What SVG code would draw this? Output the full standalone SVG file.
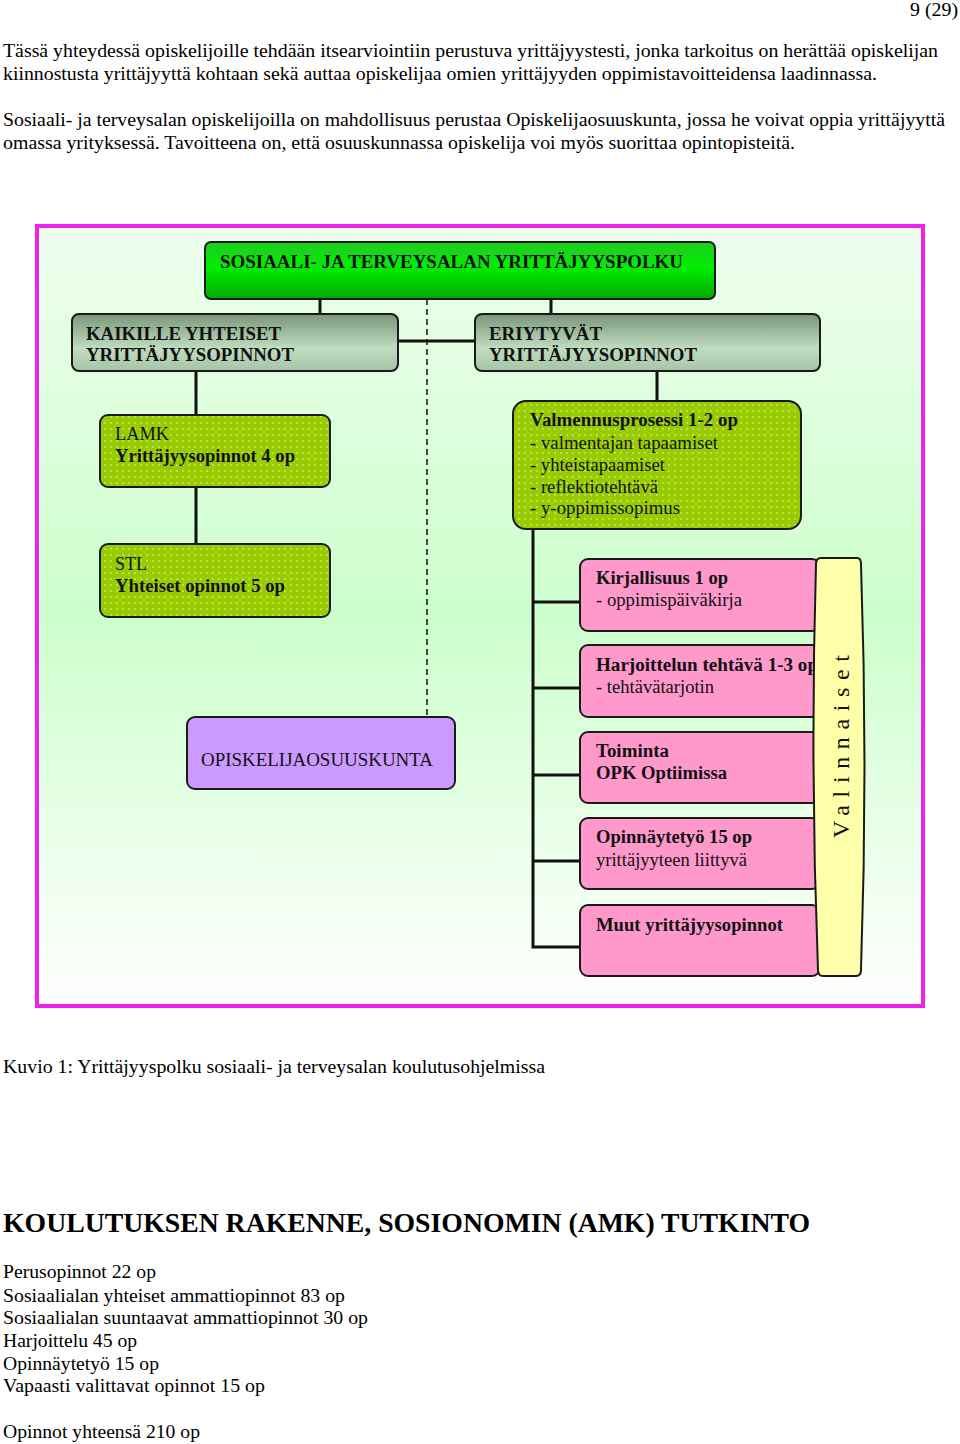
<svg xmlns="http://www.w3.org/2000/svg" width="960" height="1444" viewBox="0 0 960 1444">
<defs>
<linearGradient id="bg" x1="0" y1="0" x2="0" y2="1">
<stop offset="0" stop-color="#eefdee"/>
<stop offset="0.5" stop-color="#ccffcc"/>
<stop offset="1" stop-color="#ffffff"/>
</linearGradient>
<linearGradient id="hdr" x1="0" y1="0" x2="0" y2="1">
<stop offset="0" stop-color="#22cc22"/>
<stop offset="0.45" stop-color="#00ee00"/>
<stop offset="1" stop-color="#00a800"/>
</linearGradient>
<linearGradient id="gry" x1="0" y1="0" x2="0" y2="1">
<stop offset="0" stop-color="#7a967a"/>
<stop offset="0.6" stop-color="#c0dcc0"/>
<stop offset="1" stop-color="#a8c4a8"/>
</linearGradient>
<pattern id="dots" width="6" height="6" patternUnits="userSpaceOnUse">
<rect width="6" height="6" fill="#99cc00"/>
<circle cx="3" cy="3" r="0.8" fill="#e8f5b0"/>
</pattern>
<style>
.t{font-family:"Liberation Serif","Times New Roman",serif;font-size:19px;fill:#000}
.b{font-weight:bold}
.h{font-size:28px}
.n{font-family:"Liberation Serif","Times New Roman",serif;font-size:18px;fill:#111}
.v{font-size:24px}
.bx{stroke:#1a1a1a;stroke-width:2}
.ln{stroke:#111;stroke-width:3;fill:none}
</style>
</defs>

<g id="page-text">
<text class="t" x="910" y="16" textLength="48" lengthAdjust="spacingAndGlyphs">9 (29)</text>
<text class="t" x="3" y="57" textLength="935" lengthAdjust="spacingAndGlyphs">Tässä yhteydessä opiskelijoille tehdään itsearviointiin perustuva yrittäjyystesti, jonka tarkoitus on herättää opiskelijan</text>
<text class="t" x="3" y="80" textLength="874" lengthAdjust="spacingAndGlyphs">kiinnostusta yrittäjyyttä kohtaan sekä auttaa opiskelijaa omien yrittäjyyden oppimistavoitteidensa laadinnassa.</text>
<text class="t" x="3" y="126" textLength="942" lengthAdjust="spacingAndGlyphs">Sosiaali- ja terveysalan opiskelijoilla on mahdollisuus perustaa Opiskelijaosuuskunta, jossa he voivat oppia yrittäjyyttä</text>
<text class="t" x="3" y="149" textLength="792" lengthAdjust="spacingAndGlyphs">omassa yrityksessä. Tavoitteena on, että osuuskunnassa opiskelija voi myös suorittaa opintopisteitä.</text>
</g>

<g id="frame">
<rect x="37" y="226" width="886" height="780" fill="url(#bg)" stroke="#ee22ee" stroke-width="4"/>
</g>

<g id="connectors">
<line class="ln" x1="320" y1="298" x2="320" y2="315"/>
<line class="ln" x1="551" y1="298" x2="551" y2="315"/>
<line class="ln" x1="397" y1="341" x2="476" y2="341"/>
<line x1="427" y1="299" x2="427" y2="717" stroke="#111" stroke-width="1.5" stroke-dasharray="6,4"/>
<line class="ln" x1="196" y1="370" x2="196" y2="416"/>
<line class="ln" x1="196" y1="486" x2="196" y2="545"/>
<line class="ln" x1="657" y1="370" x2="657" y2="402"/>
<polyline class="ln" points="533,528 533,947 581,947"/>
<line class="ln" x1="533" y1="602" x2="581" y2="602"/>
<line class="ln" x1="533" y1="688" x2="581" y2="688"/>
<line class="ln" x1="533" y1="775" x2="581" y2="775"/>
<line class="ln" x1="533" y1="861" x2="581" y2="861"/>
</g>

<g id="header">
<rect class="bx" x="205" y="242" width="510" height="57" rx="6" fill="url(#hdr)"/>
<text class="n b" x="220" y="268" textLength="463" lengthAdjust="spacingAndGlyphs">SOSIAALI- JA TERVEYSALAN YRITTÄJYYSPOLKU</text>
</g>

<g id="kaikille">
<rect class="bx" x="72" y="314" width="326" height="57" rx="7" fill="url(#gry)"/>
<text class="n b" x="86" y="340" textLength="195" lengthAdjust="spacingAndGlyphs">KAIKILLE YHTEISET</text>
<text class="n b" x="86" y="361" textLength="208" lengthAdjust="spacingAndGlyphs">YRITTÄJYYSOPINNOT</text>
</g>

<g id="eriytyvat">
<rect class="bx" x="475" y="314" width="345" height="57" rx="7" fill="url(#gry)"/>
<text class="n b" x="489" y="340" textLength="113" lengthAdjust="spacingAndGlyphs">ERIYTYVÄT</text>
<text class="n b" x="489" y="361" textLength="208" lengthAdjust="spacingAndGlyphs">YRITTÄJYYSOPINNOT</text>
</g>

<g id="lamk">
<rect class="bx" x="100" y="415" width="230" height="72" rx="8" fill="url(#dots)"/>
<text class="n" x="115" y="440" textLength="54" lengthAdjust="spacingAndGlyphs">LAMK</text>
<text class="n b" x="115" y="462" textLength="180" lengthAdjust="spacingAndGlyphs">Yrittäjyysopinnot 4 op</text>
</g>

<g id="stl">
<rect class="bx" x="100" y="544" width="230" height="73" rx="8" fill="url(#dots)"/>
<text class="n" x="115" y="570" textLength="32" lengthAdjust="spacingAndGlyphs">STL</text>
<text class="n b" x="115" y="592" textLength="170" lengthAdjust="spacingAndGlyphs">Yhteiset opinnot 5 op</text>
</g>

<g id="valmennus">
<rect class="bx" x="513" y="401" width="288" height="128" rx="13" fill="url(#dots)"/>
<text class="n b" x="530" y="426" textLength="208" lengthAdjust="spacingAndGlyphs">Valmennusprosessi 1-2 op</text>
<text class="n" x="530" y="449" textLength="188" lengthAdjust="spacingAndGlyphs">- valmentajan tapaamiset</text>
<text class="n" x="530" y="471" textLength="135" lengthAdjust="spacingAndGlyphs">- yhteistapaamiset</text>
<text class="n" x="530" y="493" textLength="128" lengthAdjust="spacingAndGlyphs">- reflektiotehtävä</text>
<text class="n" x="530" y="514" textLength="150" lengthAdjust="spacingAndGlyphs">- y-oppimissopimus</text>
</g>

<g id="osuuskunta">
<rect class="bx" x="187" y="717" width="268" height="72" rx="8" fill="#cc99ff"/>
<text class="n" x="201" y="766" textLength="232" lengthAdjust="spacingAndGlyphs">OPISKELIJAOSUUSKUNTA</text>
</g>

<g id="kirjallisuus">
<rect class="bx" x="580" y="559" width="240" height="72" rx="8" fill="#ff99cc"/>
<text class="n b" x="596" y="584" textLength="132" lengthAdjust="spacingAndGlyphs">Kirjallisuus 1 op</text>
<text class="n" x="596" y="606" textLength="146" lengthAdjust="spacingAndGlyphs">- oppimispäiväkirja</text>
</g>

<g id="harjoittelu">
<rect class="bx" x="580" y="645" width="240" height="72" rx="8" fill="#ff99cc"/>
<text class="n b" x="596" y="671" textLength="222" lengthAdjust="spacingAndGlyphs">Harjoittelun tehtävä 1-3 op</text>
<text class="n" x="596" y="693" textLength="118" lengthAdjust="spacingAndGlyphs">- tehtävätarjotin</text>
</g>

<g id="toiminta">
<rect class="bx" x="580" y="732" width="240" height="71" rx="8" fill="#ff99cc"/>
<text class="n b" x="596" y="757" textLength="73" lengthAdjust="spacingAndGlyphs">Toiminta</text>
<text class="n b" x="596" y="779" textLength="131" lengthAdjust="spacingAndGlyphs">OPK Optiimissa</text>
</g>

<g id="opinnaytetyo">
<rect class="bx" x="580" y="818" width="240" height="71" rx="8" fill="#ff99cc"/>
<text class="n b" x="596" y="843" textLength="156" lengthAdjust="spacingAndGlyphs">Opinnäytetyö 15 op</text>
<text class="n" x="596" y="866" textLength="151" lengthAdjust="spacingAndGlyphs">yrittäjyyteen liittyvä</text>
</g>

<g id="muut">
<rect class="bx" x="580" y="905" width="240" height="71" rx="8" fill="#ff99cc"/>
<text class="n b" x="596" y="931" textLength="187" lengthAdjust="spacingAndGlyphs">Muut yrittäjyysopinnot</text>
</g>

<g id="valinnaiset">
<path class="bx" fill="#ffffaa" d="M821,558 L857,558 Q861,558 861,564 Q868,767 861,970 Q861,976 856,976 L823,976 Q818,976 818,970 Q810,767 816,564 Q816,558 821,558 Z"/>
<text class="n v" transform="translate(849,838) rotate(-90)" x="0" y="0" textLength="183" lengthAdjust="spacing">Valinnaiset</text>
</g>

<g id="bottom-text">
<text class="t" x="3" y="1073" textLength="542" lengthAdjust="spacingAndGlyphs">Kuvio 1: Yrittäjyyspolku sosiaali- ja terveysalan koulutusohjelmissa</text>
<text class="t b h" x="3" y="1232" textLength="807" lengthAdjust="spacingAndGlyphs">KOULUTUKSEN RAKENNE, SOSIONOMIN (AMK) TUTKINTO</text>
<text class="t" x="3" y="1278" textLength="153" lengthAdjust="spacingAndGlyphs">Perusopinnot 22 op</text>
<text class="t" x="3" y="1302" textLength="342" lengthAdjust="spacingAndGlyphs">Sosiaalialan yhteiset ammattiopinnot 83 op</text>
<text class="t" x="3" y="1324" textLength="365" lengthAdjust="spacingAndGlyphs">Sosiaalialan suuntaavat ammattiopinnot 30 op</text>
<text class="t" x="3" y="1347" textLength="134" lengthAdjust="spacingAndGlyphs">Harjoittelu 45 op</text>
<text class="t" x="3" y="1370" textLength="156" lengthAdjust="spacingAndGlyphs">Opinnäytetyö 15 op</text>
<text class="t" x="3" y="1392" textLength="262" lengthAdjust="spacingAndGlyphs">Vapaasti valittavat opinnot 15 op</text>
<text class="t" x="3" y="1438" textLength="197" lengthAdjust="spacingAndGlyphs">Opinnot yhteensä 210 op</text>
</g>
</svg>
